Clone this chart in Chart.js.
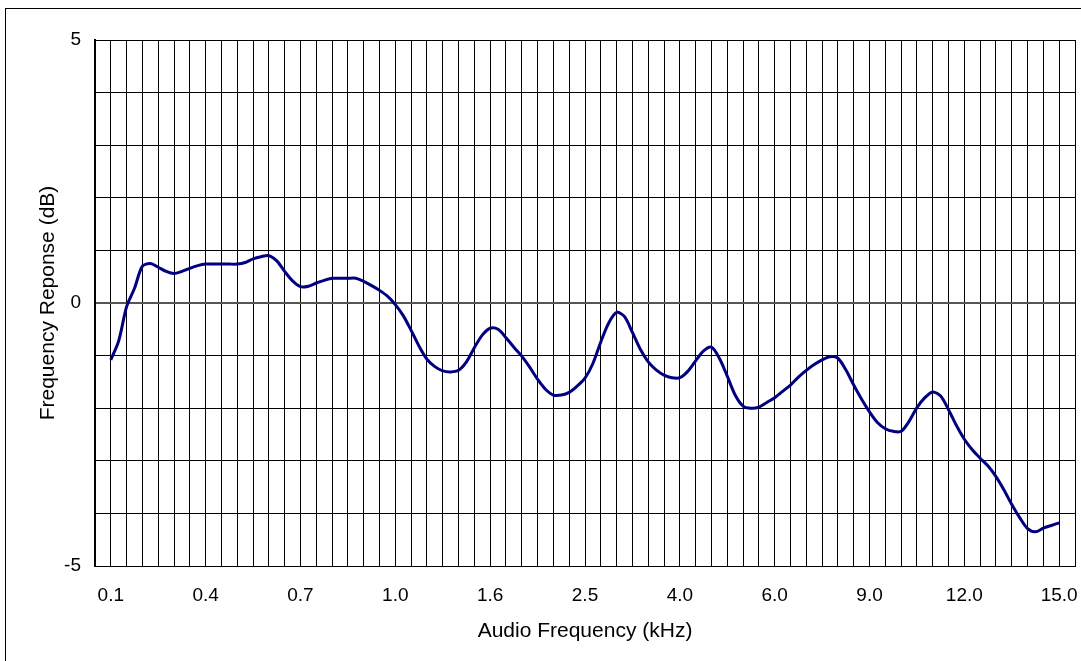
<!DOCTYPE html>
<html>
<head>
<meta charset="utf-8">
<script src="https://cdn.jsdelivr.net/npm/chart.js@4"></script>
<style>
  body { margin: 0; background: #fff; }
  canvas { display: block; }
</style>
</head>
<body>
<canvas id="freqChart" width="1081" height="661"></canvas>
<script>
// Tick labels shown every 6 gridlines on the frequency axis (kHz)
let freqLabels = ['0.1', '0.4', '0.7', '1.0', '1.6', '2.5', '4.0', '6.0', '9.0', '12.0', '15.0'];
let labelEvery = 6;
let gridCount = 62;

// Response (dB), one value every half gridline from 0.1 kHz to 15.0 kHz
let response = [
  -1.08, -0.72, -0.07, 0.28, 0.70, 0.75, 0.68, 0.60, 0.56, 0.60,
  0.66, 0.71, 0.74, 0.74, 0.74, 0.74, 0.74, 0.77, 0.84, 0.88,
  0.90, 0.80, 0.60, 0.42, 0.31, 0.32, 0.38, 0.43, 0.47, 0.47,
  0.47, 0.47, 0.41, 0.33, 0.24, 0.13, -0.03, -0.24, -0.52, -0.82,
  -1.07, -1.21, -1.29, -1.31, -1.28, -1.12, -0.85, -0.61, -0.48, -0.50,
  -0.66, -0.84, -1.01, -1.22, -1.45, -1.64, -1.75, -1.75, -1.70, -1.58,
  -1.43, -1.15, -0.74, -0.38, -0.18, -0.26, -0.56, -0.88, -1.12, -1.27,
  -1.37, -1.42, -1.42, -1.30, -1.10, -0.91, -0.84, -1.05, -1.39, -1.75,
  -1.96, -2.00, -1.98, -1.89, -1.80, -1.68, -1.56, -1.41, -1.28, -1.17,
  -1.08, -1.02, -1.05, -1.27, -1.56, -1.83, -2.07, -2.27, -2.39, -2.44,
  -2.44, -2.25, -1.99, -1.80, -1.69, -1.77, -2.03, -2.33, -2.59, -2.79,
  -2.95, -3.10, -3.30, -3.55, -3.83, -4.08, -4.29, -4.35, -4.28, -4.23,
  -4.18
];

let points = [];
for (let i = 0; i < response.length; i++) {
  points.push({ x: 1 + i / 2, y: response[i] });
}

const frame = {
  id: 'frame',
  beforeDraw(chart) {
    const ctx = chart.ctx;
    ctx.save();
    ctx.fillStyle = '#fff';
    ctx.fillRect(0, 0, chart.width, chart.height);
    ctx.strokeStyle = '#000';
    ctx.lineWidth = 1;
    ctx.strokeRect(5.5, 8.5, 2000, 2000);
    ctx.restore();
  }
};

const font = "'Liberation Sans', Arial, sans-serif";

new Chart(document.getElementById('freqChart'), {
  type: 'line',
  data: {
    datasets: [{
      data: points,
      borderColor: '#000080',
      borderWidth: 3,
      pointRadius: 0,
      tension: 0.3,
      fill: false
    }]
  },
  options: {
    responsive: false,
    animation: false,
    layout: { padding: { top: 40, right: 6, left: 0, bottom: 0 } },
    plugins: { legend: { display: false }, tooltip: { enabled: false } },
    scales: {
      x: {
        type: 'linear',
        min: 0,
        max: gridCount,
        afterBuildTicks: s => {
          let t = [];
          for (let k = 0; k <= gridCount; k++) t.push({ value: k });
          s.ticks = t;
        },
        afterFit: s => { s.height = 95; },
        grid: { color: '#000', lineWidth: 1, drawTicks: true, tickLength: 13, tickColor: 'rgba(0,0,0,0)' },
        border: { color: '#000', width: 1 },
        ticks: {
          autoSkip: false,
          maxRotation: 0,
          padding: 5,
          color: '#000',
          font: { family: font, size: 19 },
          callback: v => {
            let k = v - 1;
            if (k >= 0 && k % labelEvery === 0) return freqLabels[k / labelEvery];
            return '';
          }
        },
        title: {
          display: true,
          text: 'Audio Frequency (kHz)',
          color: '#000',
          font: { family: font, size: 21 },
          padding: 17
        }
      },
      y: {
        min: -5,
        max: 5,
        afterFit: s => { s.width = 95; },
        grid: {
          drawTicks: false,
          color: c => c.tick.value === 0 ? '#555' : '#000',
          lineWidth: c => c.tick.value === 0 ? 2 : 1
        },
        border: { color: '#000', width: 2 },
        ticks: {
          stepSize: 1,
          padding: 14,
          color: '#000',
          font: { family: font, size: 19 },
          callback: v => v % 5 === 0 ? v : ''
        },
        title: {
          display: true,
          text: 'Frequency Reponse (dB)',
          color: '#000',
          font: { family: font, size: 21 },
          padding: 36
        }
      }
    }
  },
  plugins: [frame]
});
</script>
</body>
</html>
